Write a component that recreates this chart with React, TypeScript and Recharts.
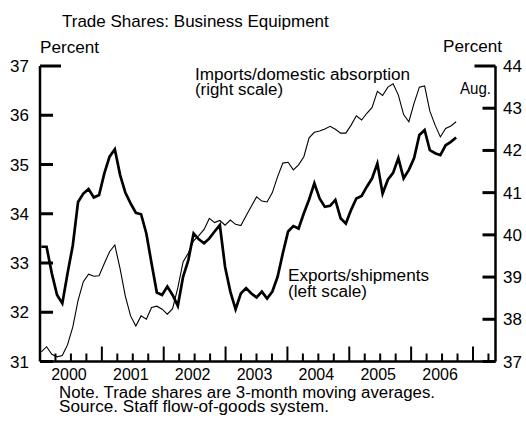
import { Line, LineChart, XAxis, YAxis } from "recharts";

const W = 526;
const H = 421;
const PLOT_LEFT = 40;
const PLOT_RIGHT = 495.5;
const PLOT_BOTTOM = 361.5;
const FONT = "'Liberation Sans', Arial, Helvetica, sans-serif";

// monthly, Jan 2000 - Aug 2006, 3-month moving averages
const exportsShare = [
  33.33, 33.33, 32.79, 32.35, 32.18, 32.79, 33.36, 34.24, 34.41, 34.5,
  34.33, 34.38, 34.82, 35.16, 35.31, 34.79, 34.43, 34.21, 34.02, 33.99,
  33.6, 32.99, 32.4, 32.35, 32.52, 32.35, 32.13, 32.72, 33.06, 33.6,
  33.48, 33.4, 33.5, 33.64, 33.77, 32.92, 32.42, 32.06, 32.38, 32.49,
  32.38, 32.3, 32.42, 32.28, 32.42, 32.72, 33.2, 33.64, 33.75, 33.7,
  34.01, 34.29, 34.62, 34.31, 34.14, 34.16, 34.28, 33.91, 33.8, 34.08,
  34.31, 34.36, 34.55, 34.72, 35.02, 34.41, 34.69, 34.83, 35.13, 34.72,
  34.89, 35.13, 35.6, 35.7, 35.29, 35.23, 35.19, 35.39, 35.46, 35.55
];

const importsShare = [
  37.23, 37.35, 37.17, 37.11, 37.14, 37.4, 37.82, 38.45, 38.89, 39.07,
  39.02, 39.03, 39.32, 39.6, 39.76, 39.2, 38.55, 38.08, 37.84, 38.08,
  38.0, 38.28, 38.31, 38.24, 38.12, 38.25, 38.75, 39.36, 39.57, 39.86,
  39.98, 40.13, 40.39, 40.29, 40.34, 40.23, 40.35, 40.25, 40.22, 40.45,
  40.68, 40.9, 40.8, 40.78, 41.0, 41.38, 41.7, 41.72, 41.54, 41.66,
  41.85, 42.3, 42.43, 42.46, 42.51, 42.57, 42.5, 42.41, 42.41, 42.6,
  42.82, 42.72, 42.88, 43.02, 43.4, 43.3, 43.5, 43.58, 43.31, 42.85,
  42.68, 43.12, 43.5, 43.53, 42.93, 42.6, 42.32, 42.52, 42.58, 42.68
];

const yearLabels = ["2000", "2001", "2002", "2003", "2004", "2005", "2006"];
const leftTicks = [31, 32, 33, 34, 35, 36, 37];
const rightTicks = [37, 38, 39, 40, 41, 42, 43, 44];

const quarterTicks: number[] = [];
for (let y = 2000; y <= 2007; y++) {
  for (let q = 0; q < 4; q++) {
    const v = y + q / 4;
    if (v > 2000 && v <= 2007.25) quarterTicks.push(v);
  }
}

const data = exportsShare.map((v, i) => ({
  idx: i,
  t: 2000 + i / 12,
  month: `${2000 + Math.floor(i / 12)}-${String((i % 12) + 1).padStart(2, "0")}`,
  exports: v,
  imports: importsShare[i]
}));

function YearTick(props: any) {
  const { x, payload } = props;
  const v = payload.value;
  const isYear = Math.abs(v - Math.round(v)) < 1e-6;
  const yr = String(Math.floor(v));
  const isMid = Math.abs(v - Math.floor(v) - 0.5) < 1e-6 && yearLabels.includes(yr);
  return (
    <g>
      <line x1={x} x2={x} y1={PLOT_BOTTOM} y2={PLOT_BOTTOM - (isYear ? 15 : 8)} stroke="#000" strokeWidth={2} />
      {isMid && (
        <text x={x - 2} y={380} textAnchor="middle" fontSize={16} fontFamily={FONT} fill="#000">
          {yr}
        </text>
      )}
    </g>
  );
}

function LeftTick(props: any) {
  const { y, payload } = props;
  const len = payload.value === 37 ? 21 : 13;
  return (
    <g>
      <line x1={PLOT_LEFT} x2={PLOT_LEFT + len} y1={y} y2={y} stroke="#000" strokeWidth={3} />
      <text x={29} y={y} dy={6} textAnchor="end" fontSize={17} fontFamily={FONT} fill="#000">
        {payload.value}
      </text>
    </g>
  );
}

function RightTick(props: any) {
  const { y, payload } = props;
  const len = payload.value === 44 ? 21 : 13;
  return (
    <g>
      <line x1={PLOT_RIGHT - len} x2={PLOT_RIGHT} y1={y} y2={y} stroke="#000" strokeWidth={3} />
      <text x={503} y={y} dy={6} textAnchor="start" fontSize={17} fontFamily={FONT} fill="#000">
        {payload.value}
      </text>
    </g>
  );
}

// text stretched to the width it has in the reference
function Label({ x, y, w, children }: { x: number; y: number; w: number; children: string }) {
  return (
    <text x={x} y={y} fontSize={16} fontFamily={FONT} fill="#000" textLength={w} lengthAdjust="spacingAndGlyphs">
      {children}
    </text>
  );
}

export default function App() {
  return (
    <div style={{ position: "relative", width: W, height: H, background: "#fff" }}>
      <style>{"body{margin:0}"}</style>
      <LineChart width={W} height={H} data={data} margin={{ top: 66, right: 0, bottom: 0, left: 0 }}>
        <XAxis
          xAxisId="yr"
          dataKey="t"
          type="number"
          domain={[2000, 2007.364]}
          allowDataOverflow
          ticks={quarterTicks}
          interval={0}
          height={59.5}
          axisLine={{ stroke: "#000", strokeWidth: 2.5 }}
          tickLine={false}
          tick={YearTick}
        />
        <XAxis
          xAxisId="m"
          dataKey="idx"
          type="number"
          domain={[-0.25, 86.5]}
          allowDataOverflow
          hide
          height={0}
          axisLine={false}
          tickLine={false}
          tick={false}
        />
        <YAxis
          yAxisId="left"
          orientation="left"
          domain={[31, 37]}
          ticks={leftTicks}
          interval={0}
          width={40}
          axisLine={{ stroke: "#000", strokeWidth: 2.5 }}
          tickLine={false}
          tick={LeftTick}
        />
        <YAxis
          yAxisId="right"
          orientation="right"
          domain={[37, 44]}
          ticks={rightTicks}
          interval={0}
          width={30.5}
          axisLine={{ stroke: "#000", strokeWidth: 2.5 }}
          tickLine={false}
          tick={RightTick}
        />
        <Line
          xAxisId="m"
          yAxisId="right"
          dataKey="imports"
          type="linear"
          stroke="#000"
          strokeWidth={1.1}
          dot={false}
          isAnimationActive={false}
        />
        <Line
          xAxisId="m"
          yAxisId="left"
          dataKey="exports"
          type="linear"
          stroke="#000"
          strokeWidth={2.7}
          dot={false}
          isAnimationActive={false}
        />
      </LineChart>
      <svg width={W} height={H} style={{ position: "absolute", left: 0, top: 0, pointerEvents: "none" }}>
        <text x={62} y={27} fontSize={17} fontFamily={FONT} fill="#000">Trade Shares: Business Equipment</text>
        <Label x={40} y={52.5} w={59}>Percent</Label>
        <Label x={443} y={52} w={59}>Percent</Label>
        <Label x={195} y={80} w={215}>Imports/domestic absorption</Label>
        <Label x={195} y={95} w={88}>(right scale)</Label>
        <Label x={288} y={281} w={141}>Exports/shipments</Label>
        <Label x={288} y={297} w={79}>(left scale)</Label>
        <Label x={460} y={94} w={31}>Aug.</Label>
        <Label x={59} y={398} w={376}>Note. Trade shares are 3-month moving averages.</Label>
        <Label x={59} y={412} w={270}>Source. Staff flow-of-goods system.</Label>
      </svg>
    </div>
  );
}
